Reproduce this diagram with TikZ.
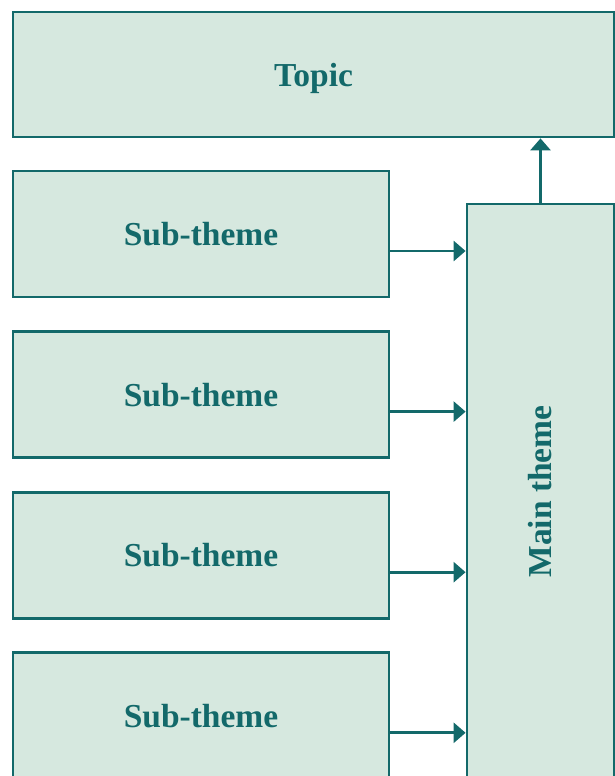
\documentclass[tikz,border=0pt]{standalone}
\usepackage{fontspec}
\setmainfont{Liberation Serif}
\usetikzlibrary{arrows.meta}
\definecolor{teal1}{HTML}{13696A}
\definecolor{mint}{HTML}{D6E8DF}
\begin{document}
\begin{tikzpicture}[x=1pt,y=1pt,>={Triangle[length=12pt,width=20pt]}, line join=miter,
	box/.style={draw=teal1,fill=mint,line width=2.8pt,inner sep=0pt,text depth=0pt,
		font=\fontsize{33.5}{38}\selectfont\bfseries,text=teal1},
	link/.style={draw=teal1,line width=2.8pt,->}]
	\def\W{615} \def\H{776} % picture size
	\useasboundingbox (0,0) rectangle (\W,-\H);
	\clip (0,0) rectangle (\W,-\H);
	\node[box,minimum width=601pt,minimum height=125pt] (topic) at (313.5,-74.5) {Topic};
	\node[box,minimum width=147pt,minimum height=575pt] (main) at (540.5,-491.5) {\rotatebox{90}{Main theme}};
	\foreach \i in {1,...,4}{
		\node[box,minimum width=376pt,minimum height=126pt] (sub\i) at (201,{-234-160.6*(\i-1)}) {Sub-theme};
		\draw[link] ([yshift=-17pt]sub\i.east) -- ([yshift=-17pt]sub\i.east -| main.west);
	}
	\draw[link] (main.north) -- (main.north |- topic.south);
\end{tikzpicture}
\end{document}
